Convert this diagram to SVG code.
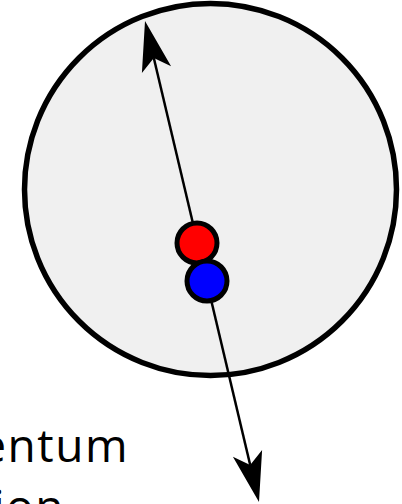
<svg xmlns="http://www.w3.org/2000/svg" width="402" height="504" viewBox="0 0 402 504">
<style>
.lbl{font-family:"Open Sans","Noto Sans",sans-serif;font-size:46px;letter-spacing:1.5px;fill:#000}
.ball{stroke:#000;stroke-width:5}
</style>
<rect width="402" height="504" fill="#fff"/>
<g id="sphere">
<circle cx="210.5" cy="189.5" r="186" fill="#f0f0f0" stroke="#000" stroke-width="5.5"/>
</g>
<g id="connectors">
<line x1="153.8" y1="58" x2="250.2" y2="465" stroke="#000" stroke-width="2.5"/>
<polygon points="145,21 171.1,66.2 153.8,58 141.9,73.1" fill="#000"/>
<polygon points="259,502 232.9,456.8 250.2,465 262.1,449.9" fill="#000"/>
</g>
<g id="red-particle">
<circle class="ball" cx="197" cy="243" r="20" fill="#ff0000"/>
</g>
<g id="blue-particle">
<circle class="ball" cx="207" cy="281" r="20" fill="#0000ff"/>
</g>
<g id="label">
<text class="lbl" x="129" y="462" text-anchor="end">entum</text>
<text class="lbl" x="65" y="523" text-anchor="end">ion</text>
</g>
</svg>
